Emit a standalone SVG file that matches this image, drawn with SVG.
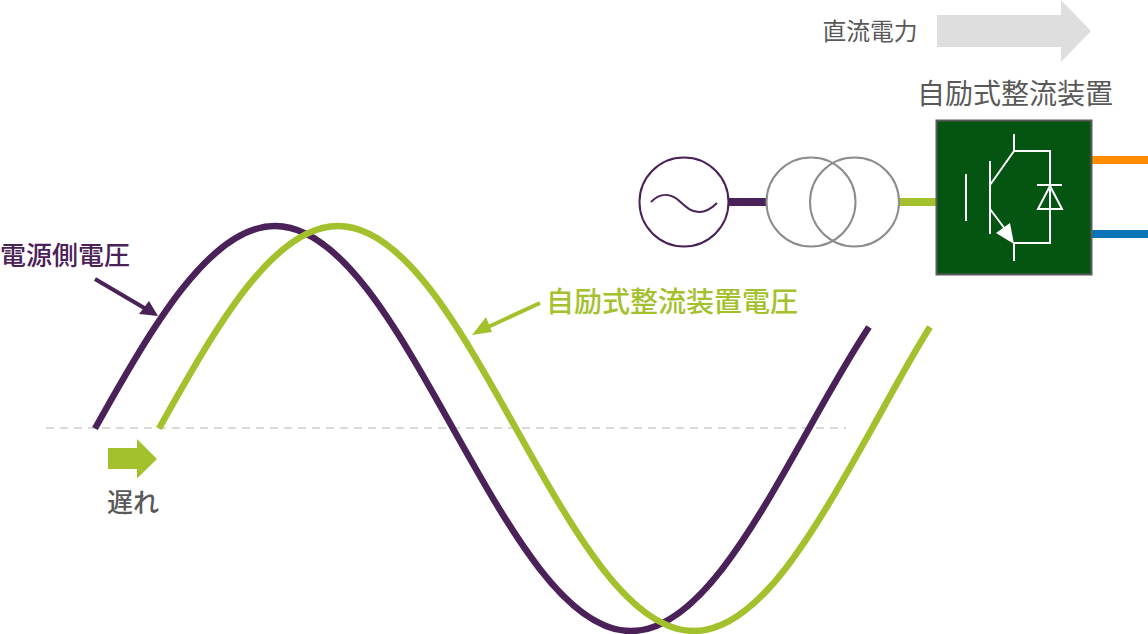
<svg xmlns="http://www.w3.org/2000/svg" width="1148" height="634" viewBox="0 0 1148 634">
<style>
text{font-family:"Noto Sans CJK JP","Noto Sans",sans-serif}
.wave{fill:none;stroke-width:6.5}
.sym{fill:none;stroke:#fff;stroke-width:2}
.purple{stroke:#4a2158}
.green{stroke:#a3c12c}
.ring{fill:none;stroke:#8c8c8c;stroke-width:2}
</style>
<rect width="1148" height="634" fill="#fff"/>
<g id="connectors">
<line x1="46" y1="428" x2="846" y2="428" stroke="#d9d9d9" stroke-width="2" stroke-dasharray="8 6"/>
<path class="wave purple" d="M95,428.5C153.05,324.8 210.58,226 275,226C339.42,226 394.95,324.8 453,428.5C511.05,532.2 566.58,631 631,631C695.42,631 750.95,532.2 809,428.5C829,392.76 849,357.04 869,327"/>
<path class="wave green" d="M159,428.5C217.05,324.8 273.58,226 338,226C402.42,226 457.95,324.8 516,428.5C574.05,532.2 629.58,631 694,631C758.42,631 813.95,532.2 872,428.5C892,392.76 911,357.04 930,327"/>
<line x1="95" y1="279" x2="146" y2="309" stroke="#4a2158" stroke-width="4"/>
<polygon points="158,316 139,314 149,301" fill="#4a2158"/>
<line x1="540" y1="303" x2="488" y2="327" stroke="#a3c12c" stroke-width="4"/>
<polygon points="472,335 486,317 492,332" fill="#a3c12c"/>
<line x1="728" y1="202" x2="767" y2="202" stroke="#4a2158" stroke-width="8"/>
<line x1="899" y1="202" x2="936" y2="202" stroke="#a3c12c" stroke-width="8"/>
<line x1="1092" y1="160" x2="1148" y2="160" stroke="#ff8c00" stroke-width="8"/>
<line x1="1092" y1="234" x2="1148" y2="234" stroke="#0b74b8" stroke-width="8"/>
</g>
<g id="dc-power">
<text x="870" y="40" font-size="23.8" fill="#595959" text-anchor="middle">直流電力</text>
<polygon points="937,15 1061,15 1061,0 1091,31 1061,62 1061,47 937,47" fill="#dedede"/>
</g>
<g id="converter">
<text x="1015" y="104" font-size="28" fill="#595959" text-anchor="middle">自励式整流装置</text>
<rect x="936.5" y="120.500" width="155" height="154" fill="#045412" stroke="#5a5a5a" stroke-width="2"/>
<path class="sym" d="M966,174V221M990,161V234M990,185L1014,151V134M1014,151H1050V243H1014V261M990,209L1005,229"/>
<polygon points="1014,244 996,233 1010,223" fill="#fff"/>
<path class="sym" d="M1037,185H1062M1050,186L1038,209H1062Z"/>
</g>
<g id="ac-source">
<circle cx="684" cy="202" r="44.500" fill="#fff" stroke="#4a2158" stroke-width="2"/>
<path d="M651,202C660,193 668,193 677,199C685,206 690,212 699,212C706,212 712,208 717,203" fill="none" stroke="#4a2158" stroke-width="2"/>
</g>
<g id="transformer">
<circle class="ring" cx="811" cy="202" r="44.500"/>
<circle class="ring" cx="854.500" cy="202" r="44.500"/>
</g>
<g id="source-voltage">
<text x="65" y="265" font-size="26" font-weight="500" fill="#4a2158" text-anchor="middle">電源側電圧</text>
</g>
<g id="converter-voltage">
<text x="672" y="312" font-size="28" font-weight="500" fill="#a3c12c" text-anchor="middle">自励式整流装置電圧</text>
</g>
<g id="delay">
<polygon points="108,448 137,448 137,439 157,459 137,478.500 137,469 108,469" fill="#a3c12c"/>
<text x="133" y="512" font-size="26" font-weight="500" fill="#595959" text-anchor="middle">遅れ</text>
</g>
</svg>
